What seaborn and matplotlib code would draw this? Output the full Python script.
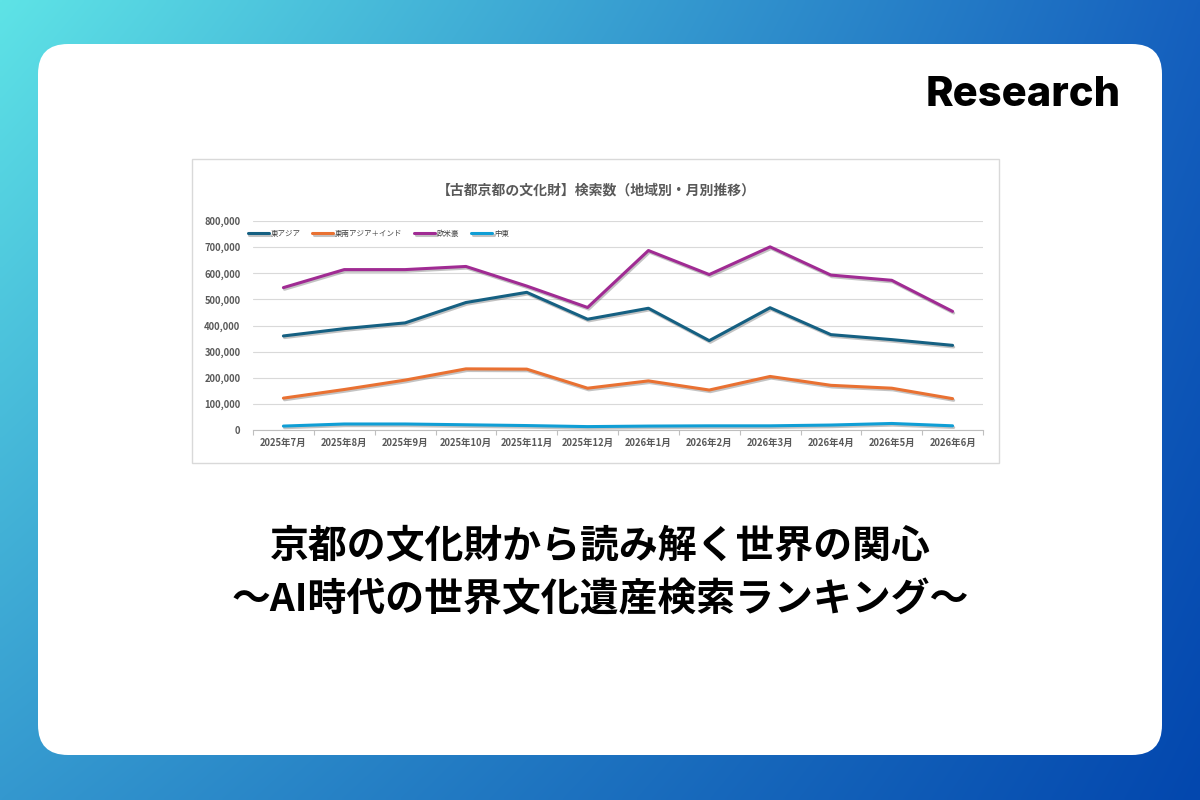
import matplotlib
matplotlib.use("Agg")
import matplotlib.pyplot as plt
import matplotlib.patheffects as pe
from matplotlib.patches import FancyBboxPatch, Rectangle
from matplotlib.ticker import FuncFormatter, FixedLocator
import numpy as np
import pandas as pd
import seaborn as sns

# データ
months = ['2025年7月', '2025年8月', '2025年9月', '2025年10月', '2025年11月', '2025年12月',
          '2026年1月', '2026年2月', '2026年3月', '2026年4月', '2026年5月', '2026年6月']
regions = ['東アジア', '東南アジア＋インド', '欧米豪', '中東']
east_asia = [360000, 388000, 410000, 488000, 527000, 424000, 466000, 342000, 468000, 365000, 346000, 324000]
se_asia_india = [122000, 155000, 191000, 234000, 233000, 160000, 188000, 153000, 205000, 171000, 160000, 120000]
euro_us_au = [545000, 614000, 614000, 626000, 551000, 469000, 687000, 595000, 701000, 593000, 573000, 454000]
middle_east = [15000, 23000, 23000, 20000, 17000, 13000, 15000, 16000, 16000, 19000, 25000, 16000]
colors = ['#156082', '#E97132', '#A02B93', '#0F9ED5']

chart_title = '【古都京都の文化財】検索数（地域別・月別推移）'
headline_1 = '京都の文化財から読み解く世界の関心'
headline_2 = '〜AI時代の世界文化遺産検索ランキング〜'

sns.set_theme(style="white")
plt.rcParams['font.family'] = ['Noto Sans CJK JP', 'DejaVu Sans']

df = pd.DataFrame({
    'pos': list(range(len(months))) * len(regions),
    'region': np.repeat(regions, len(months)),
    'value': east_asia + se_asia_india + euro_us_au + middle_east,
})

fig = plt.figure(figsize=(12, 8), dpi=100)

# ==========================================
# 背景（グラデーション＋白いカード）
# ==========================================
bg = fig.add_axes([0, 0, 1, 1])
bg.set_xlim(0, 1200)
bg.set_ylim(800, 0)
bg.axis('off')

tl = np.array([0x5E, 0xE3, 0xE6]) / 255
tr = np.array([0x15, 0x60, 0xBE]) / 255
bl = np.array([0x34, 0x98, 0xCF]) / 255
br = np.array([0x03, 0x47, 0xAE]) / 255
gx, gy = np.meshgrid(np.linspace(0, 1, 300), np.linspace(0, 1, 200))
gx, gy = gx[..., None], gy[..., None]
grad = tl * (1 - gx) * (1 - gy) + tr * gx * (1 - gy) + bl * (1 - gx) * gy + br * gx * gy
bg.imshow(grad, extent=(0, 1200, 800, 0), aspect='auto', interpolation='bilinear', zorder=0)

card = FancyBboxPatch((38, 44), 1124, 711, boxstyle="round,pad=0,rounding_size=30",
                      facecolor='white', edgecolor='none', zorder=1)
bg.add_patch(card)
bg.add_patch(Rectangle((192, 159), 807, 304, facecolor='white', edgecolor='#d9d9d9',
                       linewidth=1, zorder=2))

bg.text(1121, 95, 'Research', ha='right', va='center', fontsize=30, fontweight=800,
        family=['Inter', 'DejaVu Sans'], color='black', zorder=3)
bg.text(596, 190, chart_title, ha='center', va='center', fontsize=10, fontweight='bold',
        color='#595959', zorder=3)
bg.text(600, 546, headline_1, ha='center', va='center', fontsize=28, fontweight='bold',
        color='black', zorder=3)
bg.text(600, 600, headline_2, ha='center', va='center', fontsize=28, fontweight='bold',
        color='black', zorder=3)

# ==========================================
# 折れ線グラフ
# ==========================================
ax = fig.add_axes([253 / 1200, 1 - 430 / 800, 730 / 1200, 209 / 800])
ax.patch.set_alpha(0)
sns.lineplot(data=df, x='pos', y='value', hue='region', hue_order=regions,
             palette=colors, linewidth=2.2, ax=ax)
for ln in ax.lines:
    ln.set_path_effects([pe.SimpleLineShadow(offset=(0.8, -1.2), shadow_color='#555555', alpha=0.35),
                         pe.Normal()])

handles, labels = ax.get_legend_handles_labels()
ax.get_legend().remove()
ax.legend(handles, labels, ncol=4, loc='center left', bbox_to_anchor=(-0.007, 0.94),
          frameon=False, fontsize=5.4, handlelength=2.8, handletextpad=0.2, columnspacing=1.6,
          borderpad=0, borderaxespad=0, labelcolor='#404040')

ax.set_xlim(-0.5, len(months) - 0.5)
ax.set_ylim(0, 800000)
ax.set_xticks(range(len(months)))
ax.set_xticklabels(months)
ax.xaxis.set_minor_locator(FixedLocator(np.arange(-0.5, len(months), 1.0)))
ax.yaxis.set_major_locator(FixedLocator(np.arange(0, 800001, 100000)))
ax.yaxis.set_major_formatter(FuncFormatter(lambda v, p: f'{int(v):,}'))
ax.set_xlabel('')
ax.set_ylabel('')

ax.grid(axis='y', color='#d9d9d9', linewidth=0.8)
ax.grid(axis='x', visible=False)
for s in ['top', 'right', 'left']:
    ax.spines[s].set_visible(False)
ax.spines['bottom'].set_color('#bfbfbf')
ax.spines['bottom'].set_linewidth(0.8)

ax.tick_params(axis='x', which='major', length=0, pad=6, labelsize=6.8, labelcolor='#595959')
ax.tick_params(axis='x', which='minor', length=3.5, width=0.8, color='#bfbfbf', direction='out', bottom=True)
ax.tick_params(axis='y', length=0, pad=9, labelsize=6.8, labelcolor='#595959')
for lab in ax.get_xticklabels() + ax.get_yticklabels():
    lab.set_fontweight('bold')

fig.savefig('out.png', dpi=100)
plt.close(fig)
